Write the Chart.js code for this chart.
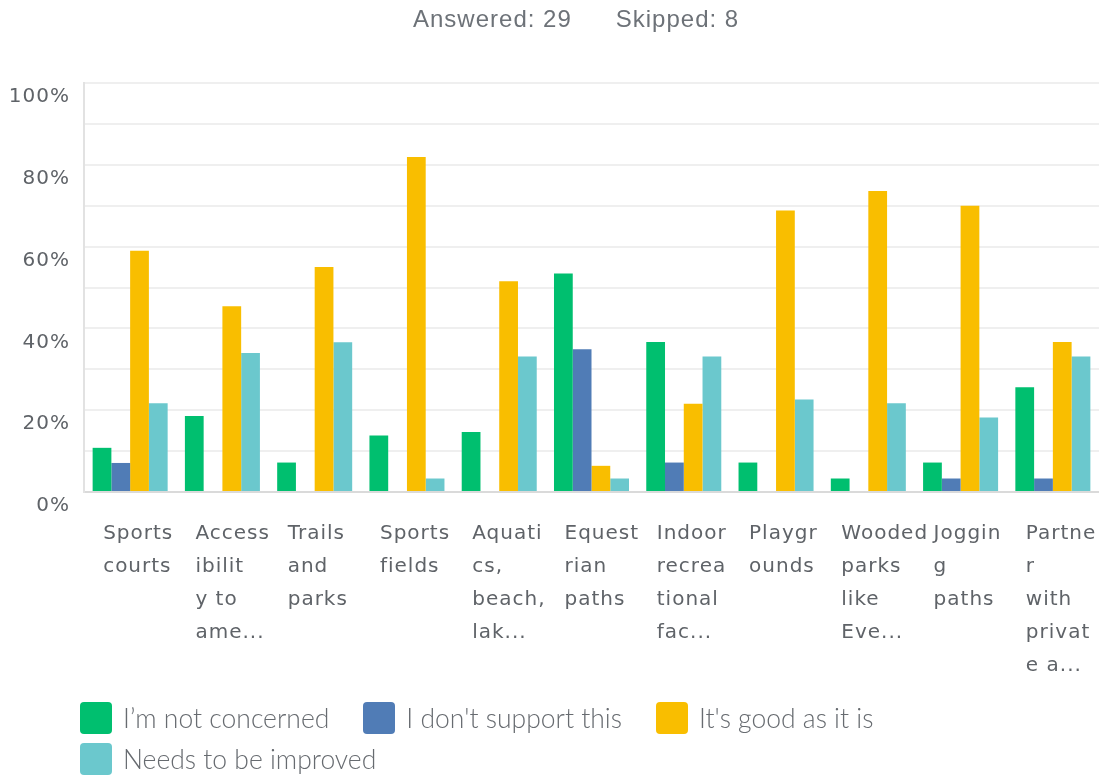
<!DOCTYPE html>
<html>
<head>
<meta charset="utf-8">
<script src="https://cdn.jsdelivr.net/npm/chart.js@4/dist/chart.umd.min.js"></script>
<style>
  html, body { margin: 0; padding: 0; background: #fff; }
  #wrap { position: relative; width: 1105px; height: 777px; overflow: hidden; }
  #chart { position: absolute; left: 0; top: 0; }
  #header {
    position: absolute; left: 413px; top: 5px;
    font-family: "Liberation Sans", Arial, sans-serif; font-size: 24px;
    letter-spacing: 1px; color: #6d7278; white-space: nowrap;
  }
  #header span + span { margin-left: 44px; }
  #legend {
    position: absolute; left: 80px; top: 702px; width: 900px;
    display: flex; flex-wrap: wrap; column-gap: 34px; row-gap: 9px;
    font-family: Lato, "Open Sans", sans-serif; font-weight: 300; font-size: 26.5px;
    color: #676b70;
  }
  .item { display: flex; align-items: center; height: 32px; white-space: nowrap; }
  .box { width: 32px; height: 32px; border-radius: 4px; margin-right: 11px; }
</style>
</head>
<body>
<div id="wrap">
  <canvas id="chart" width="1105" height="777"></canvas>
  <div id="header"><span>Answered: 29</span><span>Skipped: 8</span></div>
  <div id="legend"></div>
</div>
<script>
// category labels, already wrapped the way the survey tool cut them
const categories = [
  ['Sports', 'courts'],
  ['Access', 'ibilit', 'y to', 'ame...'],
  ['Trails', 'and', 'parks'],
  ['Sports', 'fields'],
  ['Aquati', 'cs,', 'beach,', 'lak...'],
  ['Equest', 'rian', 'paths'],
  ['Indoor', 'recrea', 'tional', 'fac...'],
  ['Playgr', 'ounds'],
  ['Wooded', 'parks', 'like', 'Eve...'],
  ['Joggin', 'g', 'paths'],
  ['Partne', 'r', 'with', 'privat', 'e a...']
];

const notConcerned = [10.8, 18.6, 7.2, 13.8, 14.7, 53.4, 36.7, 7.2, 3.3, 7.2, 25.6];
const dontSupport  = [7.1, 0, 0, 0, 0, 34.9, 7.2, 0, 0, 3.3, 3.3];
const goodAsItIs   = [59.0, 45.4, 55.0, 81.9, 51.5, 6.4, 21.6, 68.8, 73.6, 70.0, 36.7];
const needsImprove = [21.7, 34.0, 36.6, 3.3, 33.1, 3.3, 33.1, 22.6, 21.7, 18.2, 33.1];

const seriesNames = ['I\u2019m not concerned', "I don't support this", "It's good as it is", 'Needs to be improved'];
const seriesColors = ['#00bf6f', '#507cb6', '#f9be00', '#6bc8cd'];

const yTicks = [0, 20, 40, 60, 80, 100];

const textColor = '#5f6368';

// wider spacing like the survey font
const spacingPlugin = {
  id: 'spacing',
  beforeDraw(chart) { chart.ctx.letterSpacing = '1px'; }
};

const ctx = document.getElementById('chart').getContext('2d');
const chart = new Chart(ctx, {
  type: 'bar',
  data: {
    labels: categories,
    datasets: [notConcerned, dontSupport, goodAsItIs, needsImprove].map((vals, i) => ({
      label: seriesNames[i],
      data: vals,
      backgroundColor: seriesColors[i],
      borderWidth: 0,
      categoryPercentage: 0.813,
      barPercentage: 1.0
    }))
  },
  options: {
    responsive: false,
    animation: false,
    devicePixelRatio: 1,
    layout: { padding: { left: 10, top: 83, right: 6, bottom: 0 } },
    plugins: {
      legend: { display: false },
      tooltip: { enabled: false }
    },
    scales: {
      x: {
        grid: { display: false, drawTicks: false },
        border: { display: false },
        ticks: {
          autoSkip: false,
          maxRotation: 0,
          minRotation: 0,
          align: 'start',
          labelOffset: -27,
          padding: 25,
          color: textColor,
          font: { family: 'DejaVu Sans', size: 20, lineHeight: 1.65 }
        },
        afterFit(scale) {
          scale.height = 285;
          scale.paddingLeft = 0;
          scale.paddingRight = 0;
        }
      },
      y: {
        min: 0,
        max: 100,
        grid: {
          drawTicks: false,
          lineWidth: 2,
          color: c => (c.tick && c.tick.value === 0) ? '#dadada' : '#efefef'
        },
        border: { display: true, color: '#e2e2e2', width: 2 },
        ticks: {
          stepSize: 10,
          padding: 14,
          labelOffset: 14,
          color: textColor,
          font: { family: 'DejaVu Sans', size: 20 },
          callback: v => yTicks.includes(v) ? v + '%' : ''
        },
        afterFit(scale) { scale.width = 74; }
      }
    }
  },
  plugins: [spacingPlugin]
});

// legend built from the chart's datasets
const legend = document.getElementById('legend');
chart.data.datasets.forEach(ds => {
  const item = document.createElement('div');
  item.className = 'item';
  const box = document.createElement('span');
  box.className = 'box';
  box.style.background = ds.backgroundColor;
  const txt = document.createElement('span');
  txt.textContent = ds.label;
  item.appendChild(box);
  item.appendChild(txt);
  legend.appendChild(item);
});
</script>
</body>
</html>
